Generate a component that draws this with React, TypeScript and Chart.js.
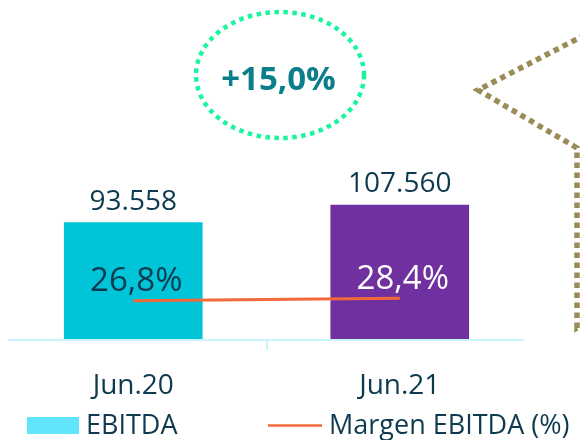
import React, { useEffect, useRef } from "react";
import { Chart, registerables } from "chart.js";

Chart.register(...registerables);

// ---- data ----
const categories = ["Jun.20", "Jun.21"];
const ebitda = [93558, 107560];
const margin = [26.8, 28.4];
const seriesNames = ["EBITDA", "Margen EBITDA (%)"];

// ---- styles ----
const FONT = "'Open Sans', sans-serif";
const TEXT = "#0e3a4f";
const barColors = ["#00c4d8", "#7030a0"];
const pctLabelColors = [TEXT, "#ffffff"];
const LINE = "#f26a3c";
const LEGEND_BOX = "#61e5fb";
const AXIS = "#c8f5fc";

const fmtThousands = (v: number) =>
  String(Math.round(v)).replace(/\B(?=(\d{3})+(?!\d))/g, ".");
const fmtPct = (v: number) => v.toFixed(1).replace(".", ",") + "%";

const decorPlugin = {
  id: "decor",
  afterDatasetsDraw(chart: any) {
    const ctx = chart.ctx as CanvasRenderingContext2D;
    const area = chart.chartArea;
    ctx.save();
    // axis line
    ctx.strokeStyle = AXIS;
    ctx.lineWidth = 2;
    ctx.beginPath();
    ctx.moveTo(area.left + 8, area.bottom);
    ctx.lineTo(area.right - 9, area.bottom);
    ctx.stroke();

    ctx.textAlign = "center";
    ctx.textBaseline = "alphabetic";
    // bar value labels
    const barMeta = chart.getDatasetMeta(0);
    ctx.font = `28px ${FONT}`;
    ctx.fillStyle = TEXT;
    barMeta.data.forEach((el: any, i: number) => {
      ctx.fillText(fmtThousands(ebitda[i]), el.x, el.y - 13);
    });
    // margin labels
    const lineMeta = chart.getDatasetMeta(1);
    ctx.font = `33px ${FONT}`;
    lineMeta.data.forEach((pt: any, i: number) => {
      ctx.fillStyle = pctLabelColors[i];
      ctx.fillText(fmtPct(margin[i]), pt.x + 3, pt.y - 9.5);
    });
    ctx.restore();
  },
  afterDraw(chart: any) {
    const ctx = chart.ctx as CanvasRenderingContext2D;
    ctx.save();
    // growth ellipse
    ctx.strokeStyle = "#1cf59e";
    ctx.lineWidth = 4.5;
    ctx.setLineDash([4.5, 4.5]);
    ctx.beginPath();
    ctx.ellipse(280, 75, 84, 63, 0, 0, Math.PI * 2);
    ctx.stroke();
    ctx.setLineDash([]);
    const growth = (ebitda[1] / ebitda[0] - 1) * 100;
    ctx.font = `bold 33px ${FONT}`;
    ctx.fillStyle = "#0a7f8c";
    ctx.textAlign = "center";
    ctx.textBaseline = "alphabetic";
    ctx.fillText("+" + fmtPct(growth), 278.5, 90);

    // star outline (partially visible)
    ctx.strokeStyle = "#998c57";
    ctx.lineWidth = 5.5;
    ctx.setLineDash([5.5, 4.5]);
    ctx.beginPath();
    ctx.moveTo(612, 21);
    ctx.lineTo(478, 90);
    ctx.lineTo(577, 148);
    ctx.lineTo(577, 328);
    ctx.lineTo(605, 312);
    ctx.stroke();
    ctx.setLineDash([]);

    // legend
    ctx.textAlign = "left";
    ctx.font = `27px ${FONT}`;
    ctx.fillStyle = LEGEND_BOX;
    ctx.fillRect(27, 417, 52, 17);
    ctx.fillStyle = TEXT;
    ctx.fillText(seriesNames[0], 86, 433.5);
    ctx.strokeStyle = LINE;
    ctx.lineWidth = 2.5;
    ctx.beginPath();
    ctx.moveTo(268, 425.5);
    ctx.lineTo(322, 425.5);
    ctx.stroke();
    ctx.fillText(seriesNames[1], 329, 433.5);
    ctx.restore();
  },
};

export default function App() {
  const ref = useRef<HTMLCanvasElement | null>(null);
  useEffect(() => {
    if (!ref.current) return;
    const chart = new Chart(ref.current, {
      type: "bar",
      data: {
        labels: categories,
        datasets: [
          {
            type: "bar",
            label: seriesNames[0],
            data: ebitda,
            yAxisID: "y",
            backgroundColor: barColors,
            barThickness: 138,
            order: 2,
          } as any,
          {
            type: "line",
            label: seriesNames[1],
            data: margin,
            yAxisID: "y1",
            borderColor: LINE,
            borderWidth: 3,
            pointRadius: 0,
            order: 1,
          } as any,
        ],
      },
      options: {
        responsive: false,
        animation: false,
        layout: { padding: { left: 0, right: 47, top: 14, bottom: 40 } },
        plugins: { legend: { display: false }, tooltip: { enabled: false } },
        scales: {
          x: {
            offset: true,
            border: { display: false },
            grid: {
              display: true,
              drawOnChartArea: false,
              drawTicks: true,
              tickLength: 10,
              lineWidth: 2,
              color: (c: any) => (c.index === 1 ? AXIS : "rgba(0,0,0,0)"),
            },
            ticks: { font: { family: FONT, size: 28 }, color: TEXT, padding: 19 },
            afterFit: (s: any) => {
              s.height = 60;
            },
          },
          y: { display: false, min: 0, max: 260000 },
          y1: { display: false, min: 0, max: 222, position: "right" },
        },
      } as any,
      plugins: [decorPlugin],
    });
    return () => chart.destroy();
  }, []);
  return (
    <div style={{ position: "absolute", left: 0, top: 0, width: 580, height: 440, background: "#fff" }}>
      <canvas ref={ref} width={580} height={440} />
    </div>
  );
}
